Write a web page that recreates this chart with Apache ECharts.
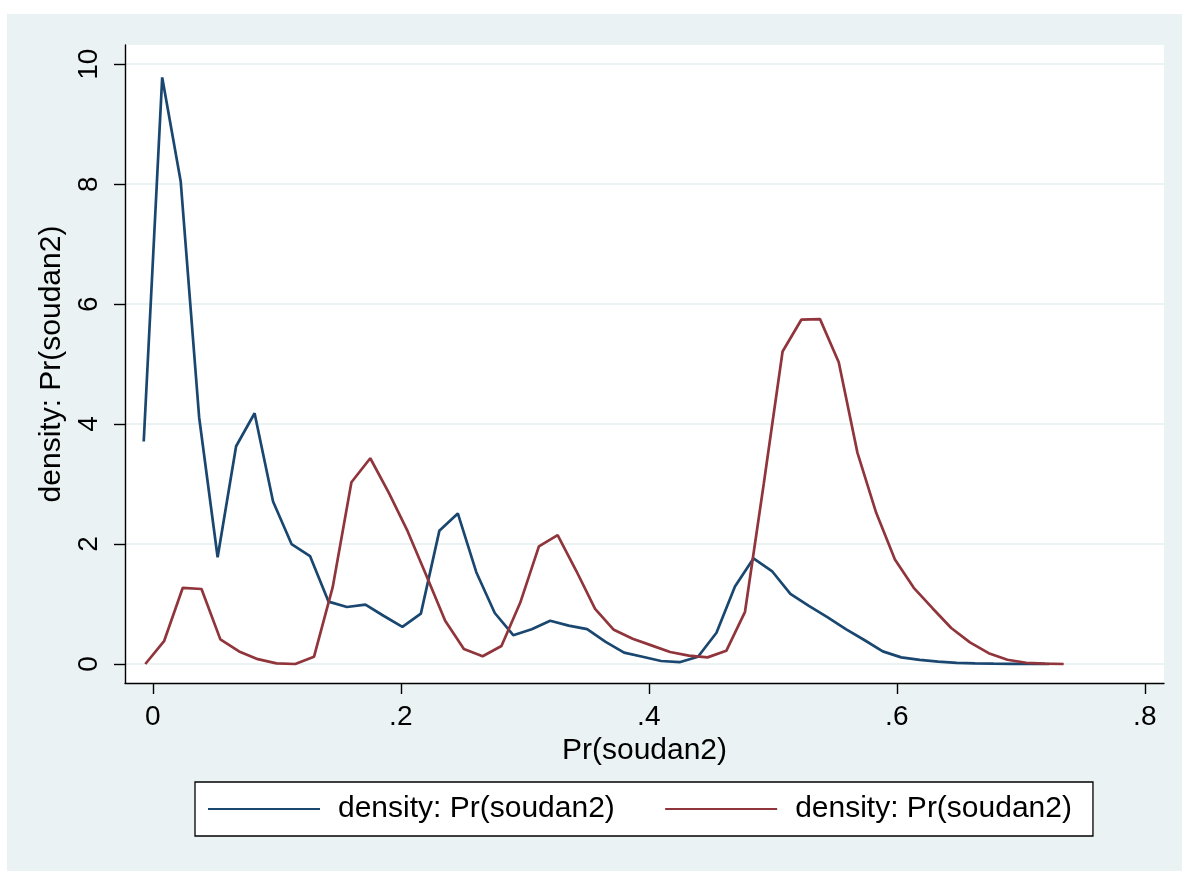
<!DOCTYPE html>
<html>
<head>
<meta charset="utf-8">
<script src="https://cdn.jsdelivr.net/npm/echarts@6/dist/echarts.min.js"></script>
<style>
html,body{margin:0;padding:0;background:#fff;}
#bg{position:absolute;left:7px;top:14px;width:1175px;height:857px;background:#eaf2f3;}
#main{position:absolute;left:0;top:0;width:1182px;height:871px;}
</style>
</head>
<body>
<div id="bg"></div>
<div id="main"></div>
<script>
// 密度曲线数据 (x: Pr(soudan2), y: density)
var blueX = [-0.0073, 0.0076, 0.0225, 0.0374, 0.0523, 0.0672, 0.0821, 0.0970, 0.1119, 0.1268,
             0.1417, 0.1566, 0.1715, 0.1864, 0.2013, 0.2162, 0.2311, 0.2460, 0.2609, 0.2758,
             0.2907, 0.3056, 0.3205, 0.3354, 0.3503, 0.3652, 0.3801, 0.3950, 0.4099, 0.4248,
             0.4397, 0.4546, 0.4695, 0.4844, 0.4993, 0.5142, 0.5291, 0.5440, 0.5589, 0.5738,
             0.5887, 0.6036, 0.6185, 0.6334, 0.6483, 0.6632, 0.6781, 0.6930, 0.7079, 0.7228];
var blueY = [3.71, 9.78, 8.05, 4.11, 1.78, 3.63, 4.18, 2.71, 2.00, 1.80,
             1.04, 0.95, 0.99, 0.80, 0.62, 0.84, 2.22, 2.51, 1.53, 0.85,
             0.48, 0.58, 0.72, 0.64, 0.58, 0.37, 0.19, 0.12, 0.05, 0.03,
             0.12, 0.52, 1.29, 1.76, 1.55, 1.17, 0.97, 0.78, 0.58, 0.40,
             0.21, 0.11, 0.07, 0.04, 0.02, 0.01, 0.005, 0.002, 0.001, 0];

var redX = [-0.0060, 0.0091, 0.0242, 0.0393, 0.0545, 0.0696, 0.0847, 0.0998, 0.1149, 0.1300,
            0.1451, 0.1602, 0.1754, 0.1905, 0.2056, 0.2207, 0.2358, 0.2509, 0.2660, 0.2812,
            0.2963, 0.3114, 0.3265, 0.3416, 0.3567, 0.3718, 0.3870, 0.4021, 0.4172, 0.4323,
            0.4474, 0.4625, 0.4776, 0.4927, 0.5079, 0.5230, 0.5381, 0.5532, 0.5683, 0.5834,
            0.5985, 0.6137, 0.6288, 0.6439, 0.6590, 0.6741, 0.6892, 0.7043, 0.7195, 0.7346];
var redY = [0, 0.38, 1.27, 1.25, 0.41, 0.21, 0.08, 0.01, 0.00, 0.12,
            1.28, 3.03, 3.43, 2.85, 2.21, 1.47, 0.72, 0.25, 0.13, 0.30,
            1.02, 1.96, 2.15, 1.55, 0.92, 0.57, 0.42, 0.31, 0.20, 0.14,
            0.11, 0.22, 0.87, 3.00, 5.21, 5.74, 5.75, 5.03, 3.52, 2.52,
            1.74, 1.27, 0.93, 0.60, 0.36, 0.18, 0.07, 0.02, 0.005, 0];

var xTicks = [0, 0.2, 0.4, 0.6, 0.8];
var yTicks = [0, 2, 4, 6, 8, 10];
var seriesName = 'density: Pr(soudan2)';

function pairs(xs, ys) {
    var out = [];
    for (var i = 0; i < xs.length; i++) {
        out.push([xs[i], ys[i]]);
    }
    return out;
}

var font = 'Liberation Sans, Arial, sans-serif';

var option = {
    animation: false,
    grid: {
        left: 125,
        top: 45,
        width: 1039,
        height: 638,
        show: true,
        backgroundColor: '#fff',
        borderWidth: 0
    },
    legend: {
        left: 195,
        top: 782,
        orient: 'horizontal',
        backgroundColor: '#fff',
        borderColor: '#000',
        borderWidth: 1.3,
        borderRadius: 0,
        padding: [12, 21, 12, 13],
        itemGap: 42,
        itemWidth: 112,
        itemHeight: 14,
        textStyle: {
            fontFamily: font,
            fontSize: 30,
            color: '#000',
            padding: [0, 0, 0, 13]
        },
        data: [
            {name: seriesName + ' ', icon: 'path://M0,0 L112,0 L112,2 L0,2 Z', itemStyle: {color: '#1a476f'}},
            {name: seriesName, icon: 'path://M0,0 L112,0 L112,2 L0,2 Z', itemStyle: {color: '#90353b'}}
        ]
    },
    xAxis: {
        type: 'value',
        min: -0.0224,
        max: 0.8155,
        name: 'Pr(soudan2)',
        nameLocation: 'middle',
        nameGap: 49,
        nameTextStyle: {fontFamily: font, fontSize: 30, color: '#000'},
        axisLine: {onZero: false, lineStyle: {color: '#000', width: 1.4}},
        axisTick: {show: true, customValues: xTicks, length: 11, lineStyle: {color: '#000', width: 1.4}},
        axisLabel: {
            customValues: xTicks,
            margin: 20,
            fontFamily: font,
            fontSize: 28,
            color: '#000',
            formatter: function (v) {
                return v === 0 ? '0' : String(v).replace('0.', '.');
            }
        },
        splitLine: {show: false}
    },
    yAxis: {
        type: 'value',
        min: -0.317,
        max: 10.32,
        name: seriesName,
        nameLocation: 'middle',
        nameGap: 46,
        nameTextStyle: {fontFamily: font, fontSize: 30, color: '#000'},
        axisLine: {show: true, onZero: false, lineStyle: {color: '#000', width: 1.4}},
        axisTick: {show: true, customValues: yTicks, length: 11, lineStyle: {color: '#000', width: 1.4}},
        axisLabel: {
            customValues: yTicks,
            rotate: 90,
            margin: 22,
            fontFamily: font,
            fontSize: 28,
            color: '#000'
        },
        splitLine: {show: true, lineStyle: {color: '#eaf2f3', width: 2}}
    },
    series: [
        {
            name: seriesName + ' ',
            type: 'line',
            symbol: 'none',
            data: pairs(blueX, blueY),
            lineStyle: {color: '#1a476f', width: 2.7},
            itemStyle: {color: '#1a476f'}
        },
        {
            name: seriesName,
            type: 'line',
            symbol: 'none',
            data: pairs(redX, redY),
            lineStyle: {color: '#90353b', width: 2.7},
            itemStyle: {color: '#90353b'}
        }
    ]
};

var myChart = echarts.init(document.getElementById('main'));
myChart.setOption(option);
</script>
</body>
</html>
